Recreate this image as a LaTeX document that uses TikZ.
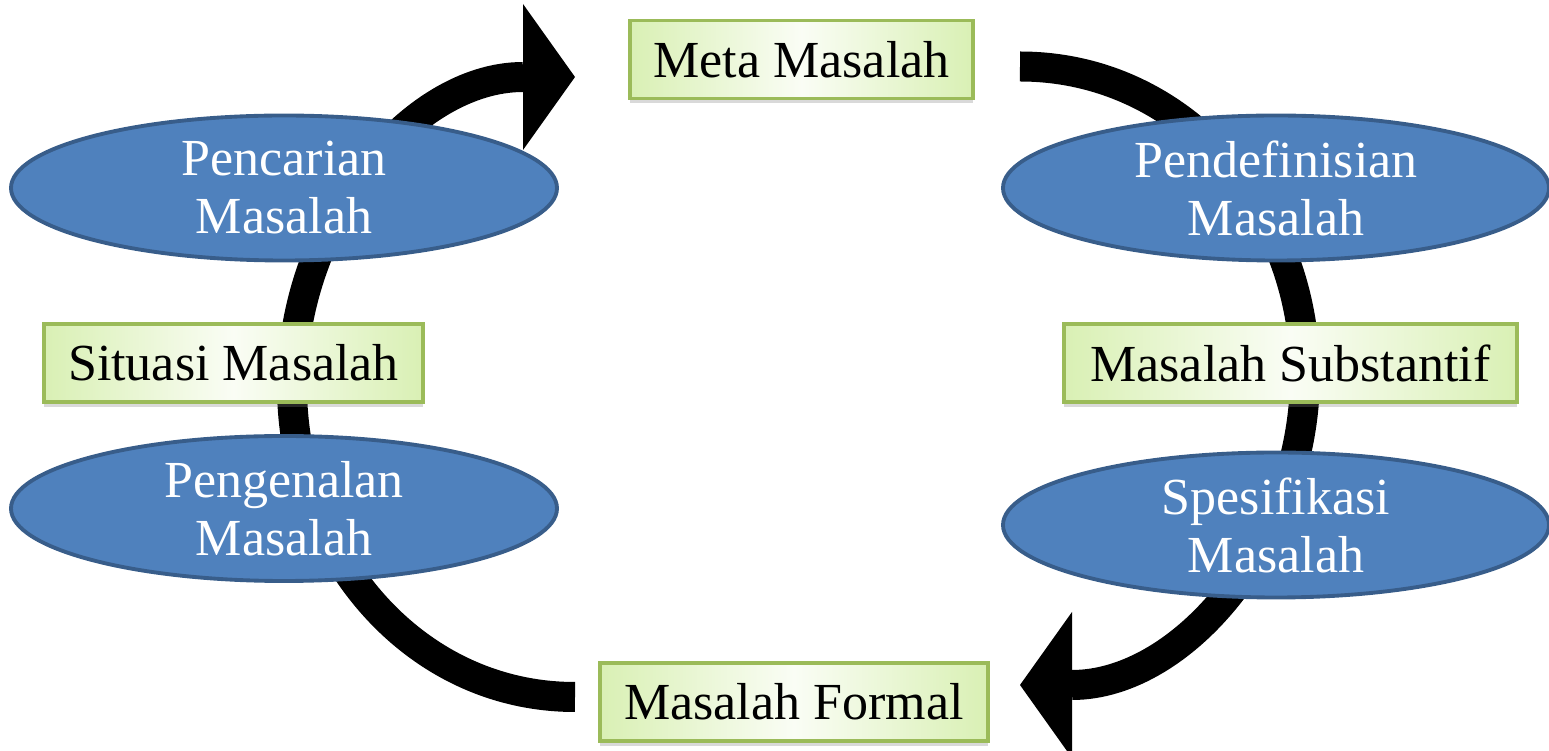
\documentclass[tikz,border=0pt]{standalone}
\usepackage{fontspec}
\setmainfont{Liberation Serif}
\usetikzlibrary{arrows.meta,shapes.geometric,shadows}
\definecolor{ellfill}{RGB}{79,129,189}
\definecolor{elldraw}{RGB}{56,93,138}
\definecolor{boxdraw}{RGB}{155,187,89}
\definecolor{boxedge}{RGB}{217,240,180}
\definecolor{boxmid}{RGB}{250,253,245}
\newcommand\fsz{\fontsize{14.8pt}{16.5pt}\selectfont}
\begin{document}
\begin{tikzpicture}[
  bigarrow/.style={line width=3mm, -{Triangle[length=5.2mm,width=14.6mm,line width=0pt]}},
  ellnode/.style={ellipse, fill=ellfill, draw=elldraw, line width=1.1pt,
    minimum width=5.46cm, minimum height=1.45cm, inner sep=0pt,
    text=white, align=center, font=\fsz},
  boxnode/.style={rectangle, draw=boxdraw, line width=1pt,
    left color=boxedge, right color=boxedge, middle color=boxmid,
    minimum height=0.78cm, inner sep=0pt, font=\fsz,
    drop shadow={shadow xshift=0pt, shadow yshift=-0.05cm, opacity=0.3}}
]
\useasboundingbox (0,0) rectangle (15.49,-7.51);

% big curved arrows (behind the nodes)
\coordinate (Lstart) at (5.75,-6.97);
\coordinate (Lleft)  at (2.92,-3.86);
\coordinate (Ltip)   at (5.75,-0.77);
\draw[bigarrow] (Lstart) to[out=180,in=-90] (Lleft) to[out=90,in=180] (Ltip);

\coordinate (Rstart) at (10.2,-0.665);
\coordinate (Rright) at (13.05,-3.75);
\coordinate (Rtip)   at (10.2,-6.85);
\draw[bigarrow] (Rstart) to[out=0,in=90] (Rright) to[out=-90,in=0] (Rtip);

% ellipses
\node[ellnode] (pencarian)     at (2.84,-1.88)  {Pencarian\\Masalah};
\node[ellnode] (pendefinisian) at (12.76,-1.88) {Pendefinisian\\Masalah};
\node[ellnode] (pengenalan)    at (2.84,-5.085) {Pengenalan\\Masalah};
\node[ellnode] (spesifikasi)   at (12.76,-5.25) {Spesifikasi\\Masalah};

% boxes
\node[boxnode, minimum width=3.43cm] (meta)       at (8.015,-0.595) {Meta Masalah};
\node[boxnode, minimum width=3.79cm] (situasi)    at (2.335,-3.63)  {Situasi Masalah};
\node[boxnode, minimum width=4.53cm] (substantif) at (12.905,-3.63) {Masalah Substantif};
\node[boxnode, minimum width=3.88cm] (formal)     at (7.94,-7.02)   {Masalah Formal};
\end{tikzpicture}
\end{document}
